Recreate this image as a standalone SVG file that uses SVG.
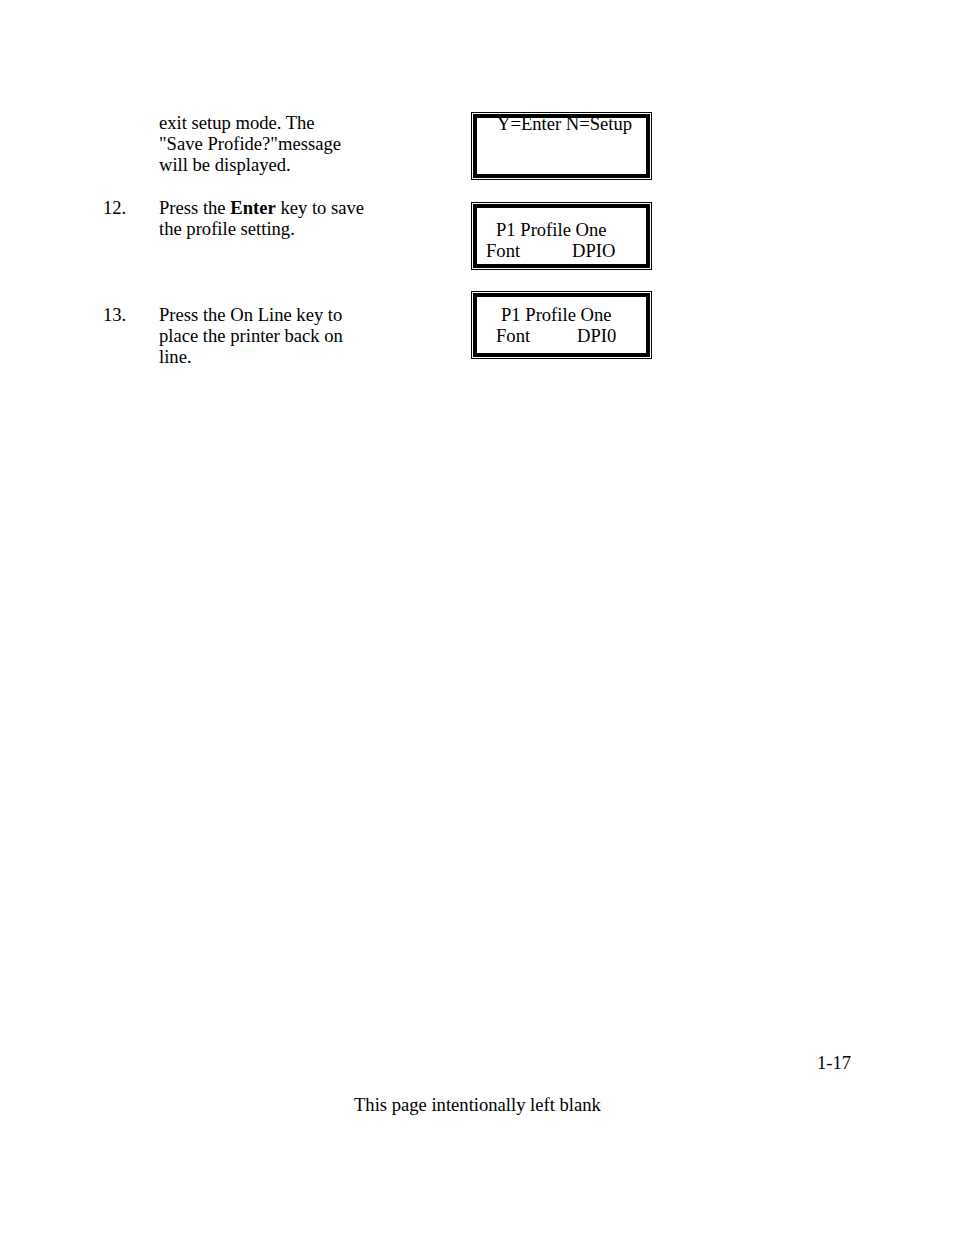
<svg xmlns="http://www.w3.org/2000/svg" width="954" height="1235" viewBox="0 0 954 1235">
<style>
text{font-family:"Liberation Serif","Times New Roman",serif;font-size:18.6px;fill:#000}
.o{fill:none;stroke:#000;stroke-width:1}
.i{fill:none;stroke:#000;stroke-width:4}
</style>
<rect width="954" height="1235" fill="#fff"/>
<g id="steps">
<text x="159" y="129">exit setup mode. The</text>
<text x="159" y="150">"Save Profide?"message</text>
<text x="159" y="171">will be displayed.</text>
<text x="103" y="214">12.</text>
<text x="159" y="214">Press the <tspan font-weight="bold">Enter</tspan> key to save</text>
<text x="159" y="235">the profile setting.</text>
<text x="103" y="321">13.</text>
<text x="159" y="321">Press the On Line key to</text>
<text x="159" y="342">place the printer back on</text>
<text x="159" y="363">line.</text>
</g>
<g id="display1">
<rect class="o" x="471.5" y="112.5" width="180" height="67"/>
<rect class="i" x="475" y="116" width="173" height="60"/>
<text x="497" y="130">Y=Enter N=Setup</text>
</g>
<g id="display2">
<rect class="o" x="471.5" y="202.5" width="180" height="67"/>
<rect class="i" x="475" y="206" width="173" height="60"/>
<text x="496" y="236">P1 Profile One</text>
<text x="486" y="257">Font</text>
<text x="572" y="257">DPIO</text>
</g>
<g id="display3">
<rect class="o" x="471.5" y="291.5" width="180" height="67"/>
<rect class="i" x="475" y="295" width="173" height="60"/>
<text x="501" y="321">P1 Profile One</text>
<text x="496" y="342">Font</text>
<text x="577" y="342">DPI0</text>
</g>
<g id="footer">
<text x="817" y="1069">1-17</text>
<text x="354" y="1111">This page intentionally left blank</text>
</g>
<g id="connectors"/>
</svg>
